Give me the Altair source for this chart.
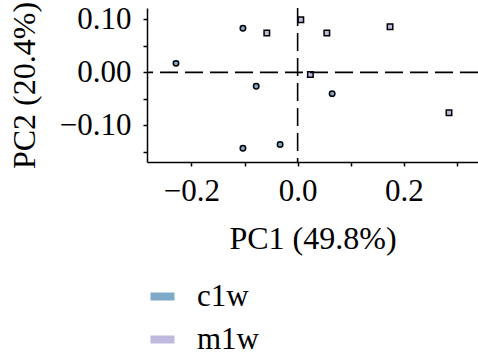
import altair as alt
import pandas as pd

groups = ["c1w"] * 6 + ["m1w"] * 6
markers = ["circle"] * 6 + ["square"] * 6
pc1 = [-0.229, -0.103, -0.078, -0.103, -0.033, 0.065,
       -0.058, 0.006, 0.055, 0.174, 0.024, 0.285]
pc2 = [0.017, 0.083, -0.026, -0.143, -0.136, -0.040,
       0.074, 0.099, 0.074, 0.086, -0.004, -0.076]

x_ticks = [-0.2, -0.1, 0.0, 0.1, 0.2, 0.3]
y_ticks = [-0.15, -0.10, -0.05, 0.0, 0.05, 0.10]
x_title = "PC1 (49.8%)"
y_title = "PC2 (20.4%)"
group_names = ["c1w", "m1w"]
colors = ["#7fa9c9", "#c0b9de"]

df = pd.DataFrame({"group": groups, "marker": markers, "PC1": pc1, "PC2": pc2})
FONT = "Liberation Serif"

xs = alt.Scale(domain=[-0.2836, 0.3396], nice=False, zero=False)
ys = alt.Scale(domain=[-0.1688, 0.1213], nice=False, zero=False)

x_axis = alt.Axis(values=x_ticks, format=".1f",
                  labelExpr="abs(datum.value*5 - round(datum.value*5)) < 0.001 ? datum.label : ''",
                  titleY=86, titleBaseline="alphabetic", labelPadding=10,
                  labelFlush=False, labelOverlap=False)
y_axis = alt.Axis(values=y_ticks, format=".2f",
                  labelExpr="abs(datum.value*10 - round(datum.value*10)) < 0.001 ? datum.label : ''",
                  titleX=-113, titleY=77, titleBaseline="alphabetic", titleAngle=270,
                  labelPadding=12, labelFlush=False, labelOverlap=False)

points = alt.Chart(df).mark_point(filled=True, stroke="black", strokeWidth=1.5, size=30, opacity=1).encode(
    x=alt.X("PC1:Q", scale=xs, title=x_title, axis=x_axis),
    y=alt.Y("PC2:Q", scale=ys, title=y_title, axis=y_axis),
    fill=alt.Fill("group:N", scale=alt.Scale(domain=group_names, range=colors),
                  legend=alt.Legend(title=None, orient="none", legendX=0, legendY=273, padding=0,
                                    symbolType="M-1,-0.333H1V0.333H-1Z", symbolSize=576,
                                    symbolStrokeWidth=0, labelFontSize=31, labelFont=FONT,
                                    labelOffset=19, rowPadding=11, labelColor="black")),
    shape=alt.Shape("marker:N", scale=None),
)

hline = alt.Chart(pd.DataFrame({"PC2": [0.0]})).mark_rule(color="black", strokeWidth=1.6, strokeDash=[18, 7]).encode(
    y=alt.Y("PC2:Q", scale=ys, title=y_title, axis=y_axis))
vline = alt.Chart(pd.DataFrame({"PC1": [0.0]})).mark_rule(color="black", strokeWidth=1.6, strokeDash=[18, 7]).encode(
    x=alt.X("PC1:Q", scale=xs, title=x_title, axis=x_axis))

chart = alt.layer(points, hline, vline).properties(
    width=331, height=154,
    autosize=alt.AutoSizeParams(type="none"),
    padding={"left": 147, "top": 8, "right": 0, "bottom": 196},
).configure_view(stroke=None).configure_axis(
    grid=False, domainColor="black", domainWidth=1.5, tickColor="black", tickWidth=1.5, tickSize=4,
    labelFont=FONT, labelFontSize=31, labelColor="black", titleFont=FONT, titleFontSize=32,
    titleFontWeight="normal", titleColor="black",
)

chart.save("out.html", embed_options={"renderer": "svg", "actions": False})
